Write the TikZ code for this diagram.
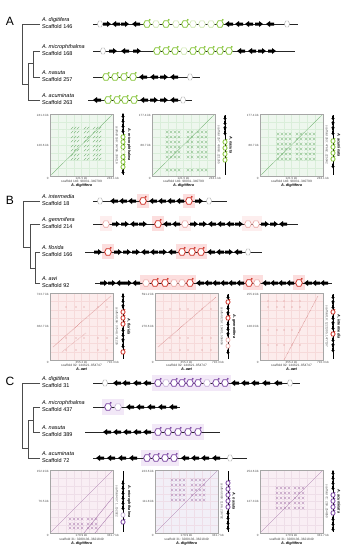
\documentclass[tikz,border=0pt]{standalone}
\usepackage{fontspec}
\setmainfont{Liberation Sans}
\usetikzlibrary{shapes.geometric}
\definecolor{gA}{RGB}{130,195,50}
\definecolor{rB}{RGB}{205,45,35}
\definecolor{pC}{RGB}{120,65,160}
\definecolor{bgA}{RGB}{238,247,238}
\definecolor{grA}{RGB}{218,238,218}
\definecolor{dtA}{RGB}{110,175,110}
\definecolor{bgB}{RGB}{252,236,236}
\definecolor{grB}{RGB}{246,218,218}
\definecolor{dtB}{RGB}{215,135,135}
\definecolor{bgC}{RGB}{249,238,244}
\definecolor{bgCb}{RGB}{242,239,247}
\definecolor{grC}{RGB}{238,222,232}
\definecolor{dtC}{RGB}{165,115,170}
\definecolor{hlB}{RGB}{252,222,222}
\definecolor{hlC}{RGB}{242,232,247}
\tikzset{
  sp/.style={font=\fontsize{5.5}{6}\selectfont\itshape, anchor=west},
  sc/.style={font=\fontsize{5.5}{6}\selectfont, anchor=west},
  pletter/.style={font=\fontsize{12}{12}\selectfont},
  tl/.style={font=\fontsize{3}{3.5}\selectfont, text=black!70},
  captxt/.style={font=\fontsize{3.2}{3.5}\selectfont, text=black!75},
  csp/.style={font=\fontsize{3.8}{4}\selectfont\bfseries\itshape},
  trk/.style={line width=0.55pt, black!85},
  tree/.style={line width=0.6pt, black!70},
  frm/.style={draw=black!35, line width=.4pt},
  la/.pic={\fill (4,-1.5) -- (0,-1.5) -- (0,-3) -- (-4,0) -- (0,3) -- (0,1.5) -- (4,1.5) -- cycle;},
  ra/.pic={\fill (-4,-1.5) -- (0,-1.5) -- (0,-3) -- (4,0) -- (0,3) -- (0,1.5) -- (-4,1.5) -- cycle;},
  hx/.pic={\filldraw[draw=#1, fill=white, line width=0.75pt] (-3.4,0) -- (-1.8,-3.2) -- (1.8,-3.2) -- (3.4,0) -- (1.8,3.2) -- (-1.8,3.2) -- cycle; \fill[#1] (2.8,-4.2) circle (1.0);},
  phx/.pic={\filldraw[draw=#1!45, fill=white, line width=0.6pt] (-3.4,0) -- (-1.8,-3.2) -- (1.8,-3.2) -- (3.4,0) -- (1.8,3.2) -- (-1.8,3.2) -- cycle;},
  gx/.pic={\filldraw[draw=black!35, fill=white, line width=0.4pt] (-2.5,0) -- (-1.4,-3) -- (1.4,-3) -- (2.5,0) -- (1.4,3) -- (-1.4,3) -- cycle;},
}
\newcommand\genemk[4]{\ifcase#3\or\pic at (#1,#2) {la};\or\pic at (#1,#2) {ra};\or\pic at (#1,#2) {hx=#4};\or\pic at (#1,#2) {phx=#4};\or\pic at (#1,#2) {gx};\fi}
\newcommand\vgenemk[4]{\ifcase#3\or\pic[rotate=90,scale=.6] at (#1,#2) {la};\or\pic[rotate=90,scale=.6] at (#1,#2) {ra};\or\pic[scale=.62] at (#1,#2) {hx=#4};\or\pic[scale=.62] at (#1,#2) {phx=#4};\fi}
\newcommand\dpl[8]{%
  \fill[fill=\pbg] (#2,#3) rectangle (#2+63,#3+#4);
  \foreach \i in {1,...,7}{\draw[draw=\pgr,line width=.25pt] (#2+\i*7.875,#3) -- (#2+\i*7.875,#3+#4);}
  \foreach \i in {1,...,7}{\draw[draw=\pgr,line width=.25pt] (#2,#3+\i*#4/8) -- (#2+63,#3+\i*#4/8);}
  \node[tl,anchor=east] (#1yt) at (#2-1.5,#3+1) {#5};
  \node[tl,anchor=east] (#1ym) at (#2-1.5,#3+#4/2) {#6};
  \node[tl,anchor=north east] (#1xo) at (#2-1.5,#3+#4+1) {0};
  \node[tl,anchor=north] (#1xm) at (#2+31.5,#3+#4+1) {#7};
  \node[tl,anchor=north] (#1xr) at (#2+63,#3+#4+1) {#8};
}
\newcommand\pcol[6]{%
  \node[tl,rotate=-90] (#1t) at (#2-6,#3+#4/2) {#5};
  \coordinate (#1a) at (#2,#3+1); \coordinate (#1b) at (#2,#3+#4-1);
  \draw[line width=.4pt] (#1a) -- (#1b);
  \node[csp,rotate=-90] (#1s) at (#2+6,#3+#4/2) {#6};
}
\newcommand\pcap[5]{\node[captxt] (#1c) at (#2,#3) {#4}; \node[csp] (#1sp) at (#2,#3+4.5) {#5};}
\begin{document}
\begin{tikzpicture}[x=1pt,y=-1pt, every node/.style={inner sep=0pt, outer sep=0pt}]
\useasboundingbox (0,0) rectangle (346,550);
\fill[white] (0,0) rectangle (346,550);
% ================= PANEL A =================
\node[pletter] (LA) at (10,21) {A};
\coordinate (Ad) at (40,24); \coordinate (Am) at (40,51); \coordinate (An) at (40,77); \coordinate (Aa) at (40,100);
\coordinate (Ax1) at (22,84); \coordinate (Ax2) at (28,84); \coordinate (Ax3) at (33,63);
\draw[tree] (Ad) -| (Ax1); \draw[tree] (Ax1) -- (Ax2); \draw[tree] (Aa) -| (Ax2);
\draw[tree] (Ax3) -| (Ax2); \draw[tree] (Am) -| (Ax3); \draw[tree] (An) -| (Ax3);
\node[sp] (nAd) at (42,20) {A. digitifera}; \node[sc] (sAd) at (42,27) {Scaffold 146};
\node[sp] (nAm) at (42,47) {A. microphthalma}; \node[sc] (sAm) at (42,54) {Scaffold 168};
\node[sp] (nAn) at (42,73) {A. nasuta}; \node[sc] (sAn) at (42,80) {Scaffold 257};
\node[sp] (nAa) at (42,96) {A. acuminata}; \node[sc] (sAa) at (42,103) {Scaffold 263};
\coordinate (A1s) at (93,24); \coordinate (A1e) at (298,24); \draw[trk] (A1s) -- (A1e);
\foreach \p/\t in {100/5,107/2,116/1,125/2,136/1,147/3,156/4,166/3,176/4,185/3,193/4,202/4,211/4,220/3,229/1,239/1,249/1,259/2,270/1,287/5} {\genemk{\p}{24}{\t}{gA}}
\coordinate (A2s) at (93,51); \coordinate (A2e) at (295,51); \draw[trk] (A2s) -- (A2e);
\foreach \p/\t in {103/5,113/2,125/1,137/2,157/3,166/3,175/3,184/4,193/3,202/3,211/3,220/3,229/3,241/1,252/1,262/2,272/2} {\genemk{\p}{51}{\t}{gA}}
\coordinate (A3s) at (93,77); \coordinate (A3e) at (200,77); \draw[trk] (A3s) -- (A3e);
\foreach \p/\t in {106/3,115/3,124/3,133/3,143/1,154/1,164/2,174/1,190/5} {\genemk{\p}{77}{\t}{gA}}
\coordinate (A4s) at (88,100); \coordinate (A4e) at (192,100); \draw[trk] (A4s) -- (A4e);
\foreach \p/\t in {97/1,108/3,117/3,125/3,134/3,144/1,154/2,164/2,174/1,183/5} {\genemk{\p}{100}{\t}{gA}}
% dot plots A
\def\pbg{bgA}\def\pgr{grA}
\dpl{pa1}{50}{114}{62}{241.3 kb}{120.6 kb}{121.5 kb}{243.1 kb}
\begin{scope}\clip (50,114) rectangle (113,176);
\draw[dtA,line width=.3pt] (50,176) -- (113,114);
\foreach \cx in {72,75,78,85,88,94,97,100} \foreach \ry in {128,132,137,141,146,150,155,159} {\draw[dtA,line width=.35pt] (\cx-1.2,\ry+1.2) -- (\cx+1.2,\ry-1.2);}
\end{scope}
\draw[frm] (50,114) rectangle (113,176);
\pcol{ca1}{123}{114}{62}{scaffold 168: 94786..336116}{A. microphthalma}
\foreach \q/\t in {116/1,121/1,126/1,131/1,137/3,142/3,147/3,152/4,157/3,162/3,167/3,172/1} {\vgenemk{123}{\q}{\t}{gA}}
\pcap{pa1}{81.5}{181.5}{scaffold 146: 98031..340799}{A. digitifera}
\dpl{pa2}{152}{114}{62}{177.4 kb}{88.7 kb}{121.5 kb}{243.1 kb}
\begin{scope}\clip (152,114) rectangle (215,176);
\draw[dtA,line width=.3pt] (152,176) -- (215,114);
\foreach \cx in {167,171,175,179,188,192,198,202,206} \foreach \ry in {132,137,142,147,152,157,170} {\draw[dtA,line width=.3pt] (\cx-1.3,\ry-1.3) -- (\cx+1.3,\ry+1.3) (\cx-1.3,\ry+1.3) -- (\cx+1.3,\ry-1.3);}
\end{scope}
\draw[frm] (152,114) rectangle (215,176);
\pcol{ca2}{225}{114}{62}{scaffold 257: 43863..221265}{A. nasuta}
\foreach \q/\t in {118/1,123/1,128/2,133/1,142/3,148/3,154/3,160/3} {\vgenemk{225}{\q}{\t}{gA}}
\pcap{pa2}{183.5}{181.5}{scaffold 146: 98031..340799}{A. digitifera}
\dpl{pa3}{260}{114}{62}{177.4 kb}{88.7 kb}{121.5 kb}{243.1 kb}
\begin{scope}\clip (260,114) rectangle (323,176);
\draw[dtA,line width=.3pt] (260,176) -- (323,114);
\foreach \cx in {278,282,286,290,297,301,306,310,314} \foreach \ry in {134,139,144,149,154,159} {\draw[dtA,line width=.3pt] (\cx-1.3,\ry-1.3) -- (\cx+1.3,\ry+1.3) (\cx-1.3,\ry+1.3) -- (\cx+1.3,\ry-1.3);}
\end{scope}
\draw[frm] (260,114) rectangle (323,176);
\pcol{ca3}{333}{114}{62}{scaffold 263: 47662..225042}{A. acuminata}
\foreach \q/\t in {118/1,123/2,128/2,133/1,141/3,147/3,153/3,159/3,166/1} {\vgenemk{333}{\q}{\t}{gA}}
\pcap{pa3}{291.5}{181.5}{scaffold 146: 98031..340799}{A. digitifera}
% ================= PANEL B =================
\node[pletter] (LB) at (10,200) {B};
\coordinate (Bi) at (40,201); \coordinate (Bg) at (40,224); \coordinate (Bf) at (40,252); \coordinate (Ba) at (40,283);
\coordinate (Bx1) at (23,247); \coordinate (Bx2) at (30,247); \coordinate (Bx3) at (35,268);
\draw[tree] (Bi) -| (Bx1); \draw[tree] (Bx1) -- (Bx2); \draw[tree] (Bg) -| (Bx2);
\draw[tree] (Bx3) -| (Bx2); \draw[tree] (Bf) -| (Bx3); \draw[tree] (Ba) -| (Bx3);
\node[sp] (nBi) at (42,197) {A. intermedia}; \node[sc] (sBi) at (42,204) {Scaffold 18};
\node[sp] (nBg) at (42,220) {A. gemmifera}; \node[sc] (sBg) at (42,227) {Scaffold 214};
\node[sp] (nBf) at (42,248) {A. florida}; \node[sc] (sBf) at (42,255) {Scaffold 166};
\node[sp] (nBa) at (42,279) {A. awi}; \node[sc] (sBa) at (42,286) {Scaffold 92};
% highlights
\fill[hlB] (137,194) rectangle (149,208); \fill[hlB] (183,194) rectangle (195,208);
\fill[hlB!50] (100,216) rectangle (112,231); \fill[hlB] (152,216) rectangle (164,231); \fill[hlB!50] (179,216) rectangle (191,231); \fill[hlB!50] (242,216) rectangle (262,231);
\fill[hlB] (102,244) rectangle (114,259); \fill[hlB] (176,244) rectangle (207,259);
\fill[hlB] (140,275) rectangle (196,290); \fill[hlB] (243,275) rectangle (263,290); \fill[hlB] (293,275) rectangle (305,290);
\coordinate (B1s) at (93,201); \coordinate (B1e) at (227,201); \draw[trk] (B1s) -- (B1e);
\foreach \p/\t in {100/5,114/1,123/1,132/1,143/3,153/1,162/1,171/1,180/1,189/3,199/2,209/5} {\genemk{\p}{201}{\t}{rB}}
\coordinate (B2s) at (93,224); \coordinate (B2e) at (298,224); \draw[trk] (B2s) -- (B2e);
\foreach \p/\t in {106/4,116/2,125/2,134/1,143/2,158/3,167/1,176/1,185/4,194/2,203/2,212/1,221/1,230/1,239/2,248/4,256/4,265/2,274/2,283/1} {\genemk{\p}{224}{\t}{rB}}
\coordinate (B3s) at (85,252); \coordinate (B3e) at (262,252); \draw[trk] (B3s) -- (B3e);
\foreach \p/\t in {98/2,108/3,118/2,127/2,136/2,145/1,154/1,163/2,172/1,182/3,192/3,201/3,211/1,220/1,229/2,238/1,248/5} {\genemk{\p}{252}{\t}{rB}}
\coordinate (B4s) at (95,283); \coordinate (B4e) at (332,283); \draw[trk] (B4s) -- (B4e);
\foreach \p/\t in {104/2,112/2,120/1,128/2,136/1,146/4,155/3,165/3,174/4,182/4,190/3,200/1,208/1,216/1,224/1,232/1,240/1,249/3,257/4,266/1,274/1,282/1,290/1,299/3,308/1,316/1,324/1} {\genemk{\p}{283}{\t}{rB}}
% dot plots B
\def\pbg{bgB}\def\pgr{grB}
\dpl{pb1}{50}{293}{67}{723.7 kb}{362.7 kb}{355.2 kb}{710.3 kb}
\begin{scope}\clip (50,293) rectangle (113,360);
\draw[dtB,line width=.5pt,dash pattern=on .7pt off .7pt] (53,347) -- (111,296);
\draw[dtB,line width=.4pt,dash pattern=on .7pt off .9pt] (62,352) -- (86,333);
\foreach \cx in {66,76,84,98,107} \foreach \ry in {307,338,350} {\fill[dtB] (\cx,\ry) circle (.7);}
\end{scope}
\draw[frm] (50,293) rectangle (113,360);
\pcol{cb1}{123}{293}{67}{scaffold 166: 37548..761226}{A. florida}
\foreach \q/\t in {296/1,301/1,306/2,312/3,318/3,324/3,330/1,335/1,340/2,346/1,352/3} {\vgenemk{123}{\q}{\t}{rB}}
\pcap{pb1}{81.5}{365}{scaffold 92: 144621..854747}{A. awi}
\dpl{pb2}{155}{293}{67}{591.2 kb}{270.6 kb}{355.2 kb}{710.3 kb}
\begin{scope}\clip (155,293) rectangle (218,360);
\draw[dtB,line width=.5pt,dash pattern=on .7pt off .7pt] (158,347) -- (216,297);
\foreach \cx in {170,180,188,202,211} \foreach \ry in {309,338,350} {\fill[dtB] (\cx,\ry) circle (.7);}
\end{scope}
\draw[frm] (155,293) rectangle (218,360);
\pcol{cb2}{228}{293}{67}{scaffold 214: 15401..556656}{A. gemmifera}
\foreach \q/\t in {297/1,302/3,308/1,313/2,318/3,324/1,329/1,334/2,340/4,346/4,352/1} {\vgenemk{228}{\q}{\t}{rB}}
\pcap{pb2}{186.5}{365}{scaffold 92: 144621..854747}{A. awi}
\dpl{pb3}{260}{293}{67}{255.9 kb}{128.0 kb}{355.2 kb}{710.3 kb}
\begin{scope}\clip (260,293) rectangle (323,360);
\draw[dtB,line width=.5pt,dash pattern=on .7pt off .7pt] (284,360) -- (318,296);
\foreach \cx in {268,277,284,292,300} \foreach \ry in {301,307,330,345} {\fill[dtB] (\cx,\ry) circle (.7);}
\end{scope}
\draw[frm] (260,293) rectangle (323,360);
\pcol{cb3}{333}{293}{67}{scaffold 18: 1221305..1477197}{A. intermedia}
\foreach \q/\t in {297/1,302/2,307/1,312/3,318/1,323/2,328/1,334/3,340/1,345/2,350/1} {\vgenemk{333}{\q}{\t}{rB}}
\pcap{pb3}{291.5}{365}{scaffold 92: 144621..854747}{A. awi}
% ================= PANEL C =================
\node[pletter] (LC) at (10,381) {C};
\coordinate (Cd) at (40,383); \coordinate (Cm) at (40,407); \coordinate (Cn) at (40,432); \coordinate (Ca) at (40,458);
\coordinate (Cx1) at (22,448); \coordinate (Cx2) at (28,448); \coordinate (Cx3) at (33,420);
\draw[tree] (Cd) -| (Cx1); \draw[tree] (Cx1) -- (Cx2); \draw[tree] (Ca) -| (Cx2);
\draw[tree] (Cx3) -| (Cx2); \draw[tree] (Cm) -| (Cx3); \draw[tree] (Cn) -| (Cx3);
\node[sp] (nCd) at (42,379) {A. digitifera}; \node[sc] (sCd) at (42,386) {Scaffold 31};
\node[sp] (nCm) at (42,403) {A. microphthalma}; \node[sc] (sCm) at (42,410) {Scaffold 437};
\node[sp] (nCn) at (42,428) {A. nasuta}; \node[sc] (sCn) at (42,435) {Scaffold 389};
\node[sp] (nCa) at (42,454) {A. acuminata}; \node[sc] (sCa) at (42,461) {Scaffold 72};
\fill[hlC] (152,375) rectangle (231,391); \fill[hlC] (102,399) rectangle (124,415);
\fill[hlC] (152,424) rectangle (204,440); \fill[hlC] (141,450) rectangle (179,466);
\coordinate (C1s) at (93,383); \coordinate (C1e) at (300,383); \draw[trk] (C1s) -- (C1e);
\foreach \p/\t in {105/5,117/1,126/1,137/1,147/1,158/3,166/4,174/3,182/3,190/3,198/3,207/4,216/3,225/3,235/1,245/1,255/1,266/1,278/1,290/5} {\genemk{\p}{383}{\t}{pC}}
\coordinate (C2s) at (93,407); \coordinate (C2e) at (180,407); \draw[trk] (C2s) -- (C2e);
\foreach \p/\t in {108/3,118/4,130/1,140/1,151/1,162/1,173/1} {\genemk{\p}{407}{\t}{pC}}
\coordinate (C3s) at (85,432); \coordinate (C3e) at (220,432); \draw[trk] (C3s) -- (C3e);
\foreach \p/\t in {107/1,117/1,127/1,137/1,147/1,158/3,168/3,178/3,188/3,198/3} {\genemk{\p}{432}{\t}{pC}}
\coordinate (C4s) at (93,458); \coordinate (C4e) at (247,458); \draw[trk] (C4s) -- (C4e);
\foreach \p/\t in {100/1,111/1,122/1,133/1,147/3,156/3,165/3,174/3,185/1,195/1,205/1,216/1,230/5} {\genemk{\p}{458}{\t}{pC}}
% dot plots C
\def\pbg{bgC}\def\pgr{grC}
\dpl{pc1}{50}{470}{63}{152.9 kb}{76.5 kb}{170.9 kb}{341.7 kb}
\begin{scope}\clip (50,470) rectangle (113,533);
\draw[dtC,line width=.3pt] (50,533) -- (113,470);
\draw[dtC,line width=.35pt] (84,533) -- (113,497);
\draw[dtC,line width=.35pt] (95,533) -- (113,511);
\foreach \cx in {70,74,78,82,88,92,96} \foreach \ry in {519,524,528} {\draw[dtC,line width=.3pt] (\cx-1.3,\ry-1.3) -- (\cx+1.3,\ry+1.3) (\cx-1.3,\ry+1.3) -- (\cx+1.3,\ry-1.3);}
\end{scope}
\draw[frm] (50,470) rectangle (113,533);
\pcol{cc1}{123}{470}{63}{scaffold 437: 1..152922}{A. microphthalma}
\foreach \q/\t in {483/1,488/1,493/1,498/1,503/1,508/1,515/4,522/3} {\vgenemk{123}{\q}{\t}{pC}}
\pcap{pc1}{81.5}{539.5}{scaffold 31: 3280136..3621849}{A. digitifera}
\def\pbg{bgCb}
\dpl{pc2}{155}{470}{63}{223.6 kb}{111.8 kb}{170.9 kb}{341.7 kb}
\begin{scope}\clip (155,470) rectangle (218,533);
\draw[dtC,line width=.3pt] (155,533) -- (218,470);
\foreach \cx in {172,176,180,184,192,196,200,204} \foreach \ry in {480,485,490,495,500} {\draw[dtC,line width=.3pt] (\cx-1.3,\ry-1.3) -- (\cx+1.3,\ry+1.3) (\cx-1.3,\ry+1.3) -- (\cx+1.3,\ry-1.3);}
\end{scope}
\draw[frm] (155,470) rectangle (218,533);
\pcol{cc2}{228}{470}{63}{scaffold 389: 1186..224792}{A. nasuta}
\foreach \q/\t in {483/3,489/3,495/3,501/3,507/3,513/1,518/1,523/1,528/1} {\vgenemk{228}{\q}{\t}{pC}}
\pcap{pc2}{186.5}{539.5}{scaffold 31: 3280136..3621849}{A. digitifera}
\def\pbg{bgC}
\dpl{pc3}{260}{470}{63}{254.6 kb}{127.3 kb}{170.9 kb}{341.7 kb}
\begin{scope}\clip (260,470) rectangle (323,533);
\draw[dtC,line width=.3pt] (260,533) -- (323,470);
\foreach \cx in {277,281,285,289,295,299,303} \foreach \ry in {488,493,498,503,508} {\draw[dtC,line width=.3pt] (\cx-1.3,\ry-1.3) -- (\cx+1.3,\ry+1.3) (\cx-1.3,\ry+1.3) -- (\cx+1.3,\ry-1.3);}
\end{scope}
\draw[frm] (260,470) rectangle (323,533);
\pcol{cc3}{333}{470}{63}{scaffold 72: 250..254850}{A. acuminata}
\foreach \q/\t in {473/1,478/1,483/1,488/1,495/3,501/3,507/3,513/3,519/1,524/1,529/1} {\vgenemk{333}{\q}{\t}{pC}}
\pcap{pc3}{291.5}{539.5}{scaffold 31: 3280136..3621849}{A. digitifera}
\end{tikzpicture}
\end{document}
